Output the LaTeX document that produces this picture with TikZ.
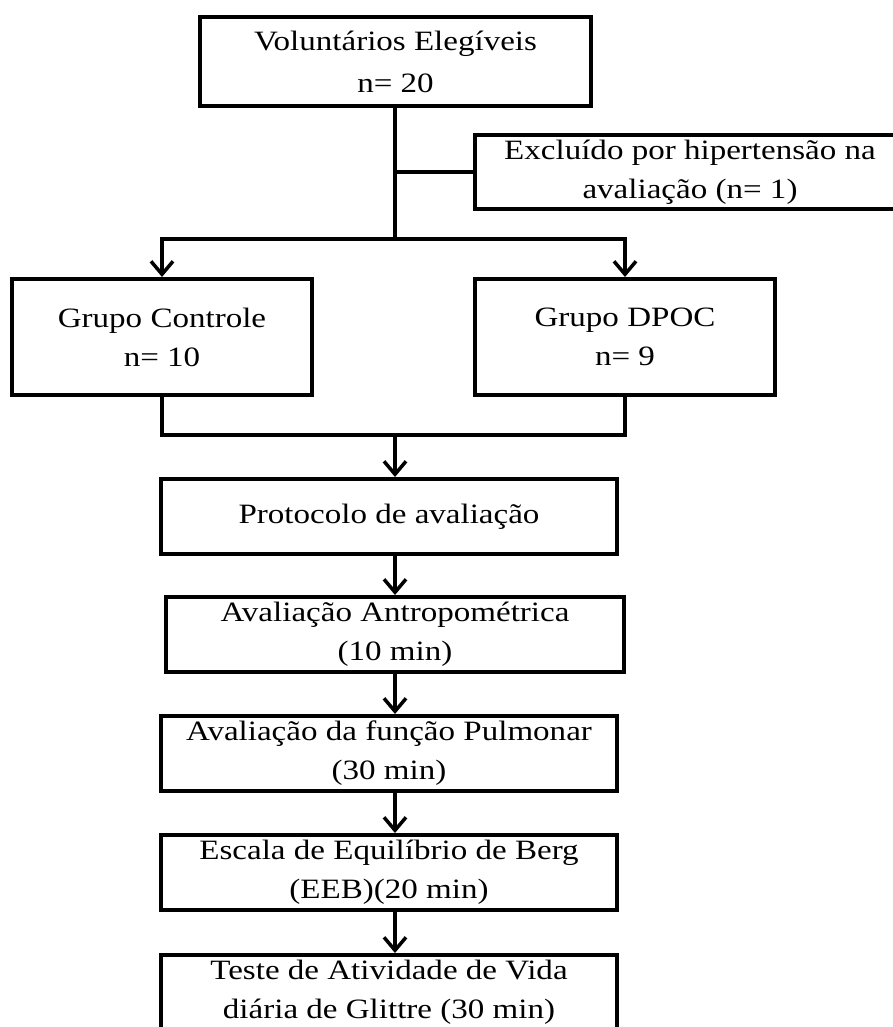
\documentclass[tikz,border=0pt]{standalone}
\usepackage{fontspec}
\setmainfont{Liberation Serif}[FakeStretch=1.18]
\usepackage{tikz}
\usetikzlibrary{arrows.meta, positioning, calc}

\begin{document}
\begin{tikzpicture}[
    x=1pt, y=-1pt,
    node distance=40pt and 159pt,
    box/.style={rectangle, draw=black, line width=4pt, fill=white, minimum width=456pt, minimum height=75pt, inner sep=2pt, align=center, font=\fontsize{28}{39}\selectfont},
    group/.style={box, minimum width=300pt, minimum height=116pt},
    link/.style={line width=3.5pt, black},
    arr/.style={link, -{Straight Barb[length=13pt, width=22pt]}}]
\useasboundingbox (0,0) rectangle (893,1027);
\node[box, minimum width=391pt, minimum height=89pt] (vol) at (395.5,61.5) {Voluntários Elegíveis\\[3pt]n= 20};
\node[box, minimum width=430pt, minimum height=74pt] (excl) at (690,172) {Excluído por hipertensão na\\avaliação (n= 1)};
\node[group] (ctrl) at (162,337) {Grupo Controle\\n= 10};
\node[group, right=of ctrl] (dpoc) {Grupo DPOC\\n= 9};
\node[box] (prot) at (389,516.5) {Protocolo de avaliação};
\node[box, minimum width=458pt, below=39pt of prot, xshift=6pt] (antr) {Avaliação Antropométrica\\(10 min)};
\node[box, below=of antr, xshift=-6pt] (pulm) {Avaliação da função Pulmonar\\(30 min)};
\node[box, below=of pulm] (berg) {Escala de Equilíbrio de Berg\\(EEB)(20 min)};
\node[box, below=41pt of berg] (teste) {Teste de Atividade de Vida\\diária de Glittre (30 min)};
\coordinate (split) at (395,239);
\coordinate (merge) at (395,435);
\draw[link] (vol.south -| split) -- (split);
\draw[link] (excl.west) -- (excl.west -| split);
\draw[arr] (split) -| (ctrl.north);
\draw[arr] (split) -| (dpoc.north);
\draw[link] (ctrl.south) |- (merge) -| (dpoc.south);
\draw[arr] (merge) -- (prot.north -| merge);
\foreach \from/\to in {prot/antr, antr/pulm, pulm/berg, berg/teste}
    \draw[arr] (\from.south -| merge) -- (\to.north -| merge);
\end{tikzpicture}
\end{document}
